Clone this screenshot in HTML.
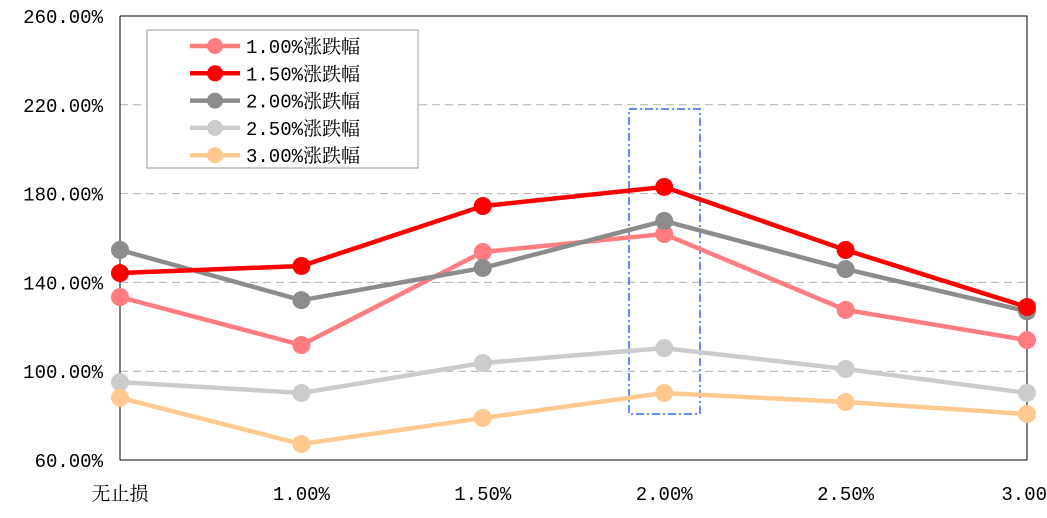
<!DOCTYPE html>
<html><head><meta charset="utf-8"><style>
body{margin:0;background:#fff}
svg text{font-family:"Liberation Mono","Noto Serif CJK SC",monospace;font-size:19px;fill:#000}
</style></head><body>
<svg id="chart" width="1047" height="513" xmlns="http://www.w3.org/2000/svg"></svg>
<script>
const categories=["无止损","1.00%","1.50%","2.00%","2.50%","3.00"];
const seriesNames=["1.00%涨跌幅","1.50%涨跌幅","2.00%涨跌幅","2.50%涨跌幅","3.00%涨跌幅"];
const s1=[133.4,111.8,153.7,161.8,127.6,114];
const s2=[144.2,147.4,174.4,183,154.6,128.9];
const s3=[154.6,132,146.5,167.7,146,127];
const s4=[95.1,90.2,103.7,110.4,101,90.2];
const s5=[88,67.2,78.9,90.2,86.1,80.7];
const yTicks=[60,100,140,180,220,260];
const yTickLabels=["60.00%","100.00%","140.00%","180.00%","220.00%","260.00%"];
const colors=["#ff7c80","#ff0000","#8c8c8c","#cccccc","#ffc98f"];
const svg=document.getElementById('chart');
const NS="http://www.w3.org/2000/svg";
const X0=120,X1=1027,Y0=460,Y1=16;
const x=i=>X0+i*(X1-X0)/(categories.length-1);
const y=v=>Y0-(v-60)/(260-60)*(Y0-Y1);
function mk(t,a){const e=document.createElementNS(NS,t);for(const k in a)e.setAttribute(k,a[k]);svg.appendChild(e);return e;}
yTicks.forEach((v,i)=>{
 if(i>0&&i<yTicks.length-1){const g=mk('line',{x1:X0,x2:X1,y1:y(v),y2:y(v),stroke:'#b0b0b0','stroke-dasharray':'8 5'});
 
 }
 const t=mk('text',{x:103,y:y(v)+7,'text-anchor':'end'});t.textContent=yTickLabels[i];
 
 
});
const fr=mk('path',{d:`M${X0} ${Y1}H${X1}V${Y0}M${X0} ${Y1}V${Y0}H${X1}`,stroke:'#000','stroke-width':1,fill:'none'});


categories.forEach((c,i)=>{
 const t=mk('text',{x:x(i),y:500,'text-anchor':i==categories.length-1?'end':'middle'});t.textContent=c;
 if(i==categories.length-1)t.setAttribute('x',1047);
 
 
});
const hl=mk('rect',{x:629,y:109,width:71,height:305,fill:'none',stroke:'#3366ff','stroke-width':1.5,'stroke-dasharray':'8 3 2 3'});


const all=[s1,s2,s3,s4,s5];
[3,4,0,2,1].forEach(k=>{
 const d=all[k].map((v,i)=>(i?'L':'M')+x(i)+' '+y(v)).join('');
 const p=mk('path',{d,stroke:colors[k],'stroke-width':4.5,fill:'none'});
 
 
 all[k].forEach((v,i)=>{const c=mk('circle',{cx:x(i),cy:y(v),r:9,fill:colors[k]});
 
 });
});
const lb=mk('rect',{x:147,y:30,width:271,height:138,fill:'#fff',stroke:'#999'});


seriesNames.forEach((n,k)=>{
 const yy=46+k*27.3;
 const l=mk('line',{x1:190,x2:240,y1:yy,y2:yy,stroke:colors[k],'stroke-width':4.5});
 
 
 const c=mk('circle',{cx:215,cy:yy,r:8,fill:colors[k]});
 
 
 const t=mk('text',{x:246,y:yy+7});t.textContent=n;
 
 
});
</script>
</body></html>
